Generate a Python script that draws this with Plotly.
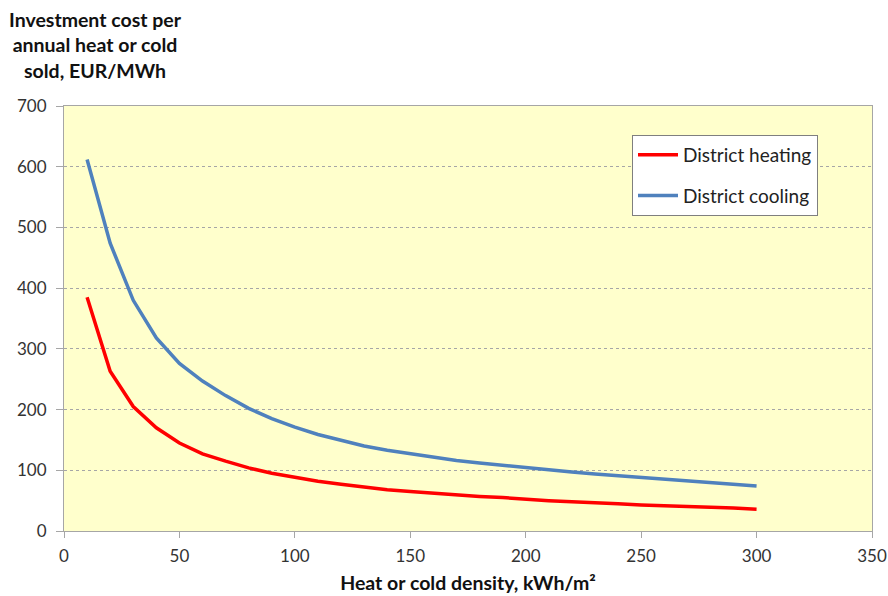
import plotly.graph_objects as go

density = [10, 20, 30, 40, 50, 60, 70, 80, 90, 100,
           110, 120, 130, 140, 150, 160, 170, 180, 190, 200,
           210, 220, 230, 240, 250, 260, 270, 280, 290, 300]
heating = [385, 263, 205, 170, 145, 127, 115, 104, 95, 88,
           82, 77, 72, 68, 65, 62, 59, 57, 55, 52,
           50, 48, 47, 45, 43, 42, 40, 39, 38, 36]
cooling = [612, 474, 380, 318, 276, 247, 223, 202, 185, 171,
           159, 149, 140, 133, 127, 121, 116, 112, 108, 104,
           100, 97, 94, 91, 88, 85, 82, 79, 77, 74]

x_ticks = [0, 50, 100, 150, 200, 250, 300, 350]
y_ticks = [0, 100, 200, 300, 400, 500, 600, 700]

FONT = "Lato, 'Open Sans', sans-serif"

fig = go.Figure()
fig.add_trace(go.Scatter(x=density, y=heating, mode="lines", name="District heating",
                         legendgroup="h",
                         line=dict(color="#FF0000", width=3.5)))
fig.add_trace(go.Scatter(x=density, y=cooling, mode="lines", name="District cooling",
                         legendgroup="c",
                         line=dict(color="#4F81BD", width=3.5)))

fig.update_layout(
    width=888, height=596,
    margin=dict(l=64, r=16, t=106, b=65, autoexpand=False),
    paper_bgcolor="white",
    plot_bgcolor="#FFFFCC",
    font=dict(family=FONT, size=17, color="#333333"),
    showlegend=True,
    legend=dict(x=(632 - 64) / 808, y=(531 - 135) / 425, xanchor="left", yanchor="top",
                bgcolor="white", bordercolor="#7F7F7F", borderwidth=1,
                font=dict(family=FONT, size=19, color="#222222"),
                tracegroupgap=13, itemwidth=40),
    xaxis=dict(range=[0, 350], tickvals=x_ticks, showgrid=False, zeroline=False,
               automargin=False,
               showline=True, linecolor="#A6A6A6", linewidth=1, mirror=True,
               ticks="outside", ticklen=6, tickcolor="#A6A6A6", ticklabelstandoff=4,
               title=dict(text="<b>Heat or cold density, kWh/m²</b>",
                          font=dict(family=FONT, size=19.5, color="#111111"), standoff=10)),
    yaxis=dict(range=[0, 700], tickvals=y_ticks, showgrid=True, automargin=False,
               gridcolor="#A6A6A6", griddash="3px,3px", gridwidth=1, zeroline=False,
               showline=True, linecolor="#A6A6A6", linewidth=1, mirror=True,
               ticks="outside", ticklen=7, tickcolor="#A6A6A6", ticklabelstandoff=6),
)

fig.add_annotation(
    text="<b>Investment cost per<br>annual heat or cold<br>sold, EUR/MWh</b>",
    xref="paper", yref="paper", x=(95 - 64) / 808, y=(531 - 6) / 425,
    xanchor="center", yanchor="top", align="center", showarrow=False,
    font=dict(family=FONT, size=19.5, color="#111111"),
)

fig.write_html("out.html")
